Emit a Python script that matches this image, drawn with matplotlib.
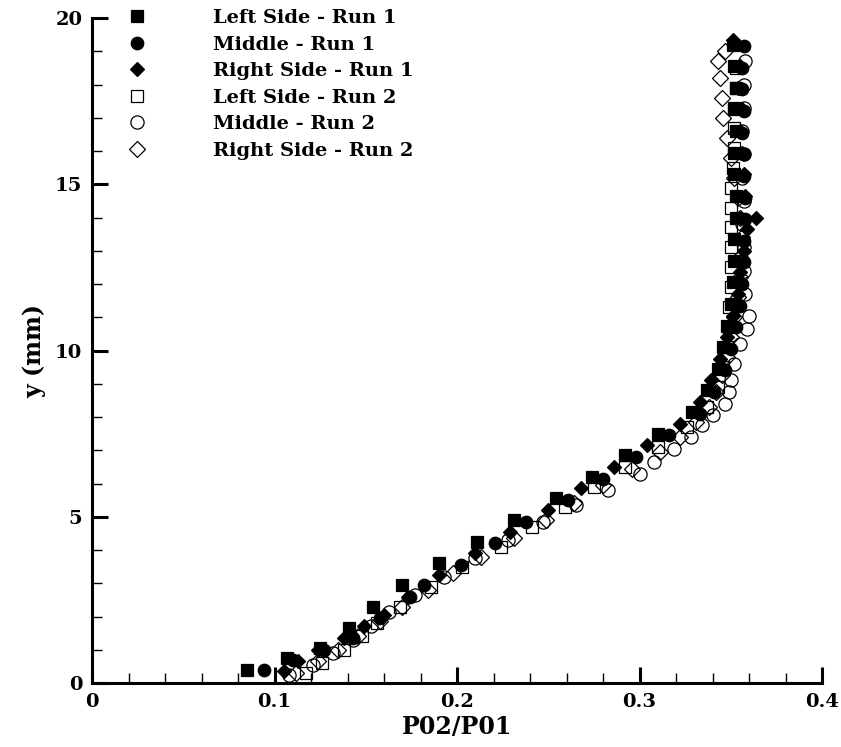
import matplotlib
matplotlib.use("Agg")
import matplotlib.pyplot as plt
from matplotlib.ticker import FixedLocator, FixedFormatter, MultipleLocator

# ---------------- data ----------------
left1_y = [0.40, 0.75, 1.05, 1.65, 2.30, 2.95, 3.60, 4.25, 4.90, 5.55, 6.20, 6.85, 7.50, 8.15,
           8.80, 9.45, 10.10, 10.75, 11.40, 12.05, 12.70, 13.35, 14.00, 14.65, 15.30, 15.95,
           16.60, 17.25, 17.90, 18.55, 19.20]
left1_x = [0.085, 0.107, 0.125, 0.141, 0.154, 0.170, 0.190, 0.211, 0.231, 0.254, 0.274, 0.292,
           0.310, 0.329, 0.337, 0.343, 0.346, 0.348, 0.350, 0.351, 0.352, 0.352, 0.353, 0.353,
           0.352, 0.352, 0.353, 0.352, 0.353, 0.352, 0.351]

mid1_y = [0.40, 0.70, 1.00, 1.35, 1.95, 2.60, 2.95, 3.55, 4.20, 4.85, 5.50, 6.15, 6.80, 7.45,
          8.10, 8.75, 9.40, 10.05, 10.70, 11.35, 12.00, 12.65, 13.30, 13.95, 14.60, 15.25,
          15.90, 16.55, 17.20, 17.85, 18.50, 19.15]
mid1_x = [0.094, 0.110, 0.127, 0.143, 0.158, 0.174, 0.182, 0.202, 0.221, 0.238, 0.261, 0.280,
          0.298, 0.316, 0.333, 0.341, 0.347, 0.350, 0.353, 0.355, 0.356, 0.357, 0.357, 0.358,
          0.358, 0.357, 0.357, 0.356, 0.357, 0.356, 0.356, 0.357]

right1_y = [0.35, 0.65, 1.00, 1.35, 1.70, 2.05, 2.60, 3.25, 3.90, 4.55, 5.20, 5.85, 6.50, 7.15,
            7.80, 8.45, 9.10, 9.75, 10.40, 11.05, 11.70, 12.35, 13.00, 13.65, 14.00, 14.65,
            15.30, 15.95, 16.60, 17.25, 17.90, 18.55, 19.35]
right1_x = [0.105, 0.113, 0.124, 0.138, 0.149, 0.160, 0.173, 0.190, 0.210, 0.229, 0.250, 0.268,
            0.286, 0.304, 0.322, 0.333, 0.339, 0.344, 0.348, 0.351, 0.354, 0.355, 0.357, 0.359,
            0.364, 0.358, 0.357, 0.356, 0.355, 0.356, 0.354, 0.355, 0.351]

left2_y = [0.30, 0.60, 1.00, 1.40, 1.80, 2.30, 2.90, 3.50, 4.10, 4.70, 5.30, 5.90, 6.50, 7.10,
           7.70, 8.30, 8.90, 9.50, 10.10, 10.70, 11.30, 11.90, 12.50, 13.10, 13.70, 14.30,
           14.90, 15.50, 16.10, 16.70, 17.30, 17.90, 18.50]
left2_x = [0.117, 0.126, 0.138, 0.148, 0.156, 0.169, 0.186, 0.203, 0.224, 0.241, 0.259, 0.275,
           0.292, 0.310, 0.326, 0.337, 0.343, 0.346, 0.348, 0.349, 0.349, 0.350, 0.350, 0.350,
           0.350, 0.350, 0.350, 0.351, 0.352, 0.352, 0.352, 0.353, 0.353]

mid2_y = [0.25, 0.55, 0.90, 1.30, 1.70, 2.15, 2.65, 3.20, 3.75, 4.30, 4.85, 5.35, 5.80, 6.30,
          6.65, 7.05, 7.40, 7.75, 8.05, 8.40, 8.75, 9.10, 9.60, 10.20, 10.65, 11.05, 11.70,
          12.40, 13.10, 13.80, 14.50, 15.20, 15.90, 16.60, 17.30, 18.00, 18.70]
mid2_x = [0.108, 0.121, 0.132, 0.143, 0.153, 0.163, 0.177, 0.193, 0.210, 0.228, 0.247, 0.265,
          0.283, 0.300, 0.308, 0.319, 0.328, 0.334, 0.340, 0.347, 0.349, 0.350, 0.352, 0.355,
          0.359, 0.360, 0.358, 0.357, 0.357, 0.356, 0.357, 0.356, 0.357, 0.356, 0.357, 0.357,
          0.358]

right2_y = [0.30, 0.65, 1.00, 1.40, 1.85, 2.30, 2.80, 3.30, 3.80, 4.35, 4.90, 5.40, 5.95, 6.45,
            6.95, 7.40, 7.85, 8.30, 8.75, 9.25, 9.80, 10.40, 11.00, 11.60, 12.20, 12.80, 13.40,
            14.00, 14.60, 15.20, 15.80, 16.40, 17.00, 17.60, 18.20, 18.70, 19.00]
right2_x = [0.112, 0.124, 0.135, 0.146, 0.158, 0.170, 0.184, 0.198, 0.213, 0.231, 0.249, 0.264,
            0.280, 0.296, 0.311, 0.322, 0.331, 0.338, 0.342, 0.345, 0.348, 0.350, 0.352, 0.354,
            0.355, 0.355, 0.356, 0.355, 0.354, 0.352, 0.350, 0.348, 0.346, 0.345, 0.344, 0.343,
            0.347]

series_labels = ["Left Side - Run 1", "Middle - Run 1", "Right Side - Run 1",
                 "Left Side - Run 2", "Middle - Run 2", "Right Side - Run 2"]
x_tick_vals = [0.0, 0.1, 0.2, 0.3, 0.4]
x_tick_labels = ["0", "0.1", "0.2", "0.3", "0.4"]
y_tick_vals = [0, 5, 10, 15, 20]
y_tick_labels = ["0", "5", "10", "15", "20"]

# ---------------- figure ----------------
FONT = "DejaVu Serif"
fig = plt.figure(figsize=(8.41, 7.47), dpi=100)
ax = fig.add_axes([92 / 841, 1 - 683 / 747, 730 / 841, 665 / 747])

series = [
    (left1_x, left1_y, "s", 8.5, "black"),
    (mid1_x, mid1_y, "o", 9.0, "black"),
    (right1_x, right1_y, "D", 7.5, "black"),
    (left2_x, left2_y, "s", 8.5, "none"),
    (mid2_x, mid2_y, "o", 9.5, "none"),
    (right2_x, right2_y, "D", 8.0, "none"),
]
for (xs, ys, m, ms, fc), lab in zip(series, series_labels):
    ax.plot(xs, ys, linestyle="none", marker=m, markersize=ms,
            markerfacecolor=fc, markeredgecolor="black", markeredgewidth=0.9,
            label=lab)

ax.set_xlim(0, 0.4)
ax.set_ylim(0, 20)

for s in ["top", "right"]:
    ax.spines[s].set_visible(False)
for s in ["left", "bottom"]:
    ax.spines[s].set_linewidth(2.2)

ax.xaxis.set_major_locator(FixedLocator(x_tick_vals))
ax.xaxis.set_major_formatter(FixedFormatter(x_tick_labels))
ax.yaxis.set_major_locator(FixedLocator(y_tick_vals))
ax.yaxis.set_major_formatter(FixedFormatter(y_tick_labels))
ax.xaxis.set_minor_locator(MultipleLocator(0.02))
ax.yaxis.set_minor_locator(MultipleLocator(1))

ax.tick_params(which="major", direction="in", length=11.5, width=2.2, pad=7,
               labelsize=14)
ax.tick_params(which="minor", direction="in", length=7, width=1.0)
for lbl in ax.get_xticklabels() + ax.get_yticklabels():
    lbl.set_fontfamily(FONT)
    lbl.set_fontweight("bold")

ax.set_xlabel("P02/P01", fontfamily=FONT, fontweight="bold", fontsize=17, labelpad=3)
ax.set_ylabel("y (mm)", fontfamily=FONT, fontweight="bold", fontsize=17, labelpad=6)

leg = ax.legend(loc="upper left", bbox_to_anchor=(0.049, 1.0135), frameon=False,
                prop={"family": FONT, "weight": "bold", "size": 14},
                handlelength=1.0, handletextpad=3.4, labelspacing=0.44,
                borderpad=0, borderaxespad=0, numpoints=1)

fig.savefig("out.png", dpi=100)
